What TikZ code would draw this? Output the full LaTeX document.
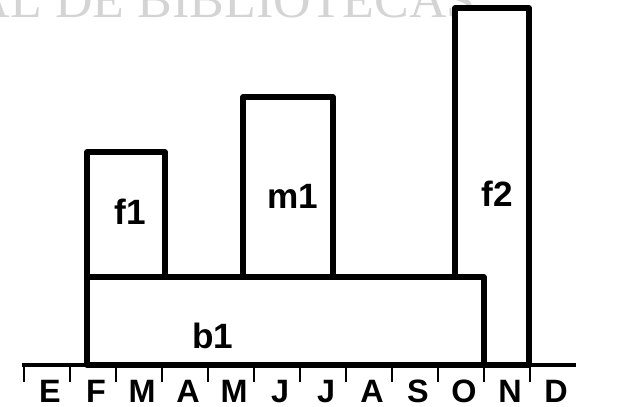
\documentclass[tikz,border=0pt]{standalone}
\usepackage{fontspec}
\setmainfont{Liberation Sans}
\newfontfamily\marcafont{Liberation Serif}
\usepackage{xcolor}
\usepackage{tikz}
\definecolor{marcaGris}{HTML}{D4D4D4}

\begin{document}
\begin{tikzpicture}[x=0.025cm, y=-0.025cm, every node/.style={font=\bfseries\fontsize{25}{27}\selectfont, inner sep=0pt},
  barra/.style={draw, line width=4pt, fill=white, line join=round},
  eje/.style={line width=2.8pt},
  marca/.style={line width=1.8pt}]
\useasboundingbox (0,0) rectangle (639,407);
\clip (0,0) rectangle (639,407);
\node[anchor=base east, text=marcaGris, font=\marcafont\fontsize{37}{40}\selectfont] (sello) at (476,18) {AL DE BIBLIOTECAS};
% barras
\draw[barra] (455,8) rectangle (529,365);
\draw[barra] (87,152) rectangle (165,277);
\draw[barra] (243,97) rectangle (333,277);
\draw[barra] (87,277) rectangle (484,365);
\node (f1) at (130,212) {f1};
\node (m1) at (293,196) {m1};
\node (f2) at (497,194) {f2};
\node (b1) at (213,336) {b1};
% eje de meses
\coordinate (ejeIzq) at (22,365);
\coordinate (ejeDer) at (576,365);
\draw[eje] (ejeIzq) -- (ejeDer);
\foreach \k/\m in {0/E, 1/F, 2/M, 3/A, 4/M, 5/J, 6/J, 7/A, 8/S, 9/O, 10/N, 11/D} {
  \draw[marca] (24+46*\k,365) -- ++(0,17);
  \node[anchor=base, font=\bfseries\fontsize{23}{25}\selectfont] (mes\k) at (50+46*\k,402) {\m};
}
\end{tikzpicture}
\end{document}
